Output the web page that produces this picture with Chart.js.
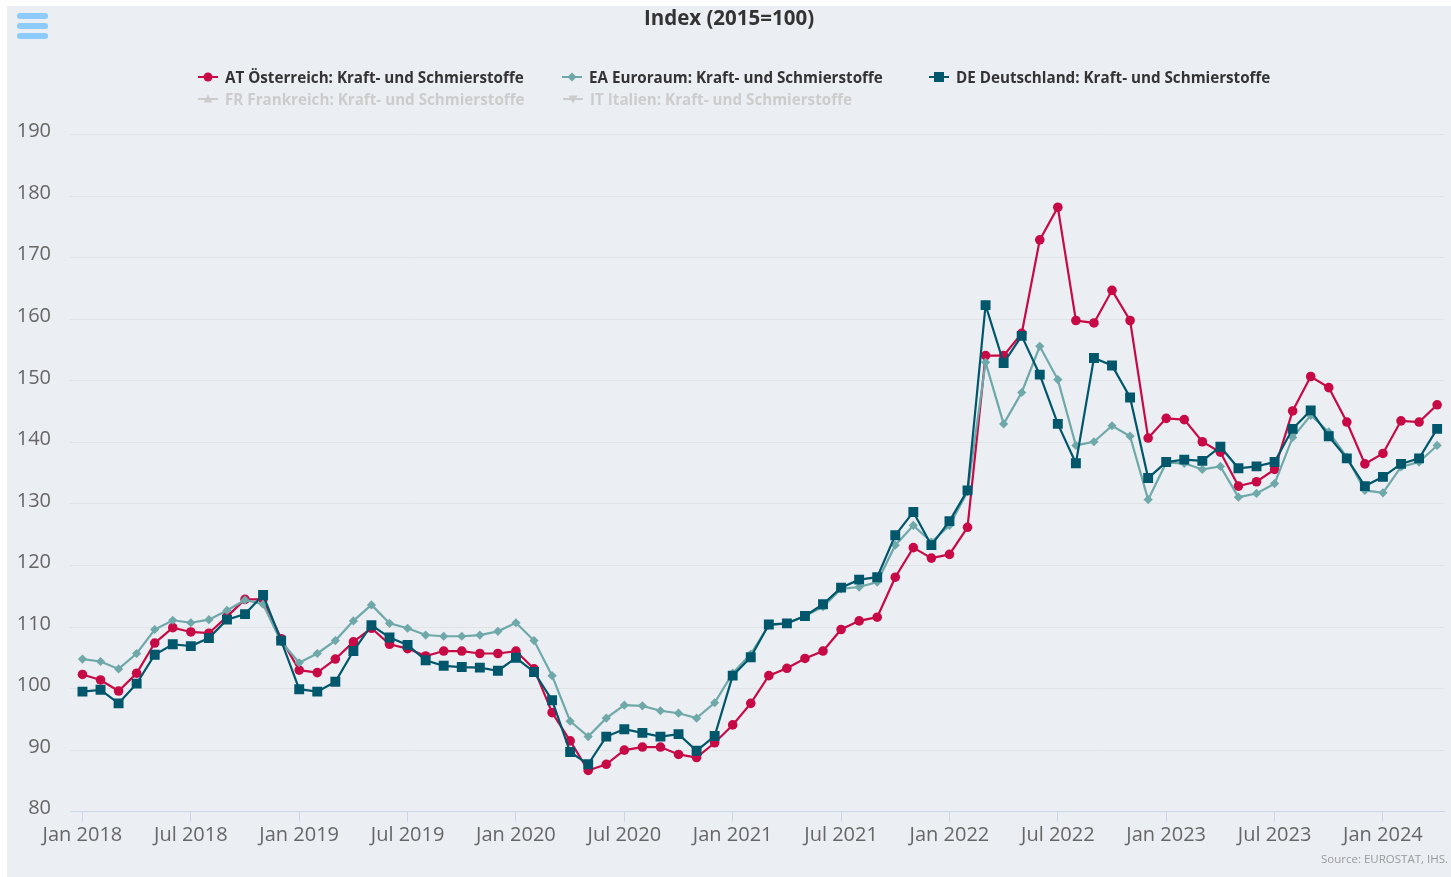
<!DOCTYPE html>
<html>
<head>
<meta charset="utf-8">
<script src="https://cdn.jsdelivr.net/npm/chart.js@4"></script>
<style>
  body { margin: 0; background: #fff; font-family: "Open Sans", sans-serif; }
  #wrap { position: absolute; left: 7px; top: 6px; width: 1444px; height: 871px; background: #ebeef3; overflow: hidden; }
  #burger { position: absolute; left: 10px; top: 7px; }
  #burger div { width: 31px; height: 6px; border-radius: 3px; background: #8ccbfa; margin-bottom: 4px; }
  .leg { position: absolute; font-size: 15.2px; font-weight: bold; color: #333; white-space: nowrap; display: flex; align-items: center; }
  .leg.off { color: #cccccc; }
  .leg svg { margin-right: 7px; }
  #source { position: absolute; right: 3px; top: 845px; font-size: 11.5px; color: #999; }
</style>
</head>
<body>
<div id="wrap">
  <canvas id="chart"></canvas>
  <div id="burger"><div></div><div></div><div></div></div>
  <div id="legend"></div>
  <div id="source">Source: EUROSTAT, IHS.</div>
</div>
<script>
const tickLabels = ["Jan 2018", "Jul 2018", "Jan 2019", "Jul 2019", "Jan 2020", "Jul 2020", "Jan 2021",
  "Jul 2021", "Jan 2022", "Jul 2022", "Jan 2023", "Jul 2023", "Jan 2024"];

// months since Jan 2018 (Jan 2018 .. Apr 2024)
const months = [];
for (let i = 0; i < 76; i++) months.push(i);

const atValues = [102.3, 101.4, 99.6, 102.5, 107.4, 109.9, 109.2, 109.0, 111.7, 114.5, 114.5, 108.1,
  103.0, 102.6, 104.8, 107.6, 109.8, 107.2, 106.5, 105.3, 106.1, 106.1, 105.7, 105.7,
  106.1, 103.2, 96.1, 91.5, 86.7, 87.7, 90.0, 90.5, 90.5, 89.3, 88.8, 91.2,
  94.1, 97.6, 102.1, 103.3, 104.9, 106.1, 109.6, 111.0, 111.6, 118.1, 122.9, 121.2,
  121.8, 126.2, 154.1, 154.1, 157.7, 172.9, 178.2, 159.8, 159.4, 164.7, 159.8, 140.7,
  143.9, 143.7, 140.1, 138.4, 132.9, 133.6, 135.6, 145.1, 150.7, 148.9, 143.3, 136.5,
  138.2, 143.5, 143.3, 146.1];

const eaValues = [104.8, 104.4, 103.2, 105.7, 109.6, 111.1, 110.7, 111.2, 112.7, 114.4, 113.7, 107.6,
  104.2, 105.7, 107.8, 111.0, 113.6, 110.6, 109.8, 108.7, 108.5, 108.5, 108.7, 109.3,
  110.7, 107.8, 102.1, 94.7, 92.2, 95.2, 97.3, 97.2, 96.4, 96.0, 95.2, 97.7,
  102.5, 105.6, 110.3, 110.6, 111.8, 113.3, 116.2, 116.5, 117.3, 123.3, 126.5, 123.8,
  126.5, 132.0, 153.0, 143.0, 148.1, 155.6, 150.2, 139.5, 140.1, 142.7, 141.0, 130.7,
  136.7, 136.6, 135.6, 136.1, 131.1, 131.7, 133.3, 140.8, 144.4, 141.7, 137.6, 132.2,
  131.8, 136.0, 136.8, 139.5];

const deValues = [99.5, 99.8, 97.6, 100.8, 105.5, 107.2, 106.9, 108.2, 111.2, 112.1, 115.2, 107.8,
  99.9, 99.5, 101.1, 106.1, 110.3, 108.3, 107.1, 104.6, 103.7, 103.5, 103.4, 102.9,
  105.0, 102.7, 98.1, 89.7, 87.7, 92.2, 93.4, 92.8, 92.2, 92.6, 89.9, 92.3,
  102.1, 105.1, 110.4, 110.6, 111.8, 113.7, 116.4, 117.7, 118.1, 124.9, 128.7, 123.3,
  127.2, 132.2, 162.3, 152.9, 157.3, 151.0, 143.0, 136.6, 153.7, 152.5, 147.3, 134.2,
  136.8, 137.2, 137.0, 139.3, 135.8, 136.1, 136.8, 142.2, 145.2, 141.0, 137.4, 132.9,
  134.4, 136.5, 137.4, 142.2];

const series = [
  { name: "AT Österreich: Kraft- und Schmierstoffe", values: atValues, color: "#c70a45", style: "circle", radius: 4.8, order: 3, left: 191, top: 61 },
  { name: "EA Euroraum: Kraft- und Schmierstoffe", values: eaValues, color: "#6ea8a9", style: "rectRot", radius: 4.6, order: 2, left: 555, top: 61 },
  { name: "DE Deutschland: Kraft- und Schmierstoffe", values: deValues, color: "#00566b", style: "rect", radius: 7, order: 1, left: 922, top: 61 },
  { name: "FR Frankreich: Kraft- und Schmierstoffe", values: [], color: "#cccccc", style: "triangle", radius: 4.6, hidden: true, left: 191, top: 83 },
  { name: "IT Italien: Kraft- und Schmierstoffe", values: [], color: "#cccccc", style: "triangleDown", radius: 4.6, hidden: true, left: 556, top: 83 }
];

function legendSymbol(s) {
  const c = s.hidden ? "#cccccc" : s.color;
  let mark;
  if (s.style === "circle") mark = `<circle cx="10" cy="8" r="4.5" fill="${c}"/>`;
  else if (s.style === "rectRot") mark = `<polygon points="10,3.5 14.5,8 10,12.5 5.5,8" fill="${c}"/>`;
  else if (s.style === "rect") mark = `<rect x="5" y="3" width="10" height="10" fill="${c}"/>`;
  else if (s.style === "triangle") mark = `<polygon points="10,3.5 14.5,11.5 5.5,11.5" fill="${c}"/>`;
  else mark = `<polygon points="10,12.5 14.5,4.5 5.5,4.5" fill="${c}"/>`;
  return `<svg width="20" height="16"><line x1="0" y1="8" x2="20" y2="8" stroke="${c}" stroke-width="2"/>${mark}</svg>`;
}

const legendEl = document.getElementById("legend");
series.forEach(s => {
  const item = document.createElement("div");
  item.className = "leg" + (s.hidden ? " off" : "");
  item.style.left = s.left + "px";
  item.style.top = s.top + "px";
  item.innerHTML = legendSymbol(s) + "<span>" + s.name + "</span>";
  legendEl.appendChild(item);
});

const datasets = series.filter(s => !s.hidden).map(s => ({
  label: s.name,
  data: s.values.map((v, i) => ({ x: months[i], y: v })),
  borderColor: s.color,
  backgroundColor: s.color,
  borderWidth: 2.2,
  pointStyle: s.style,
  pointRadius: s.radius,
  pointBackgroundColor: s.color,
  pointBorderWidth: 0,
  tension: 0,
  order: s.order
}));

new Chart(document.getElementById("chart"), {
  type: "line",
  data: { datasets: datasets },
  options: {
    responsive: true,
    maintainAspectRatio: false,
    animation: false,
    layout: { padding: 0 },
    plugins: {
      legend: { display: false },
      tooltip: { enabled: false },
      title: {
        display: true,
        text: "Index (2015=100)",
        color: "#333333",
        font: { family: "Open Sans", size: 20.5, weight: "bold" },
        padding: { top: 1, bottom: 103 }
      }
    },
    scales: {
      x: {
        type: "linear",
        min: -0.69,
        max: 75.38,
        afterFit: s => { s.height = 65.3; },
        ticks: {
          stepSize: 6,
          includeBounds: false,
          autoSkip: false,
          maxRotation: 0,
          padding: 2,
          color: "#666666",
          font: { family: "Open Sans", size: 20 },
          callback: v => tickLabels[v / 6]
        },
        grid: { drawOnChartArea: false, tickLength: 10, color: "#ccd6eb" },
        border: { color: "#ccd6eb" }
      },
      y: {
        min: 80,
        max: 190,
        afterFit: s => { s.width = 63; },
        ticks: {
          stepSize: 10,
          padding: 19,
          labelOffset: -3,
          color: "#666666",
          font: { family: "Open Sans", size: 20 }
        },
        grid: { color: "#e0e2e6", drawTicks: false },
        border: { display: false }
      }
    }
  }
});
</script>
</body>
</html>
